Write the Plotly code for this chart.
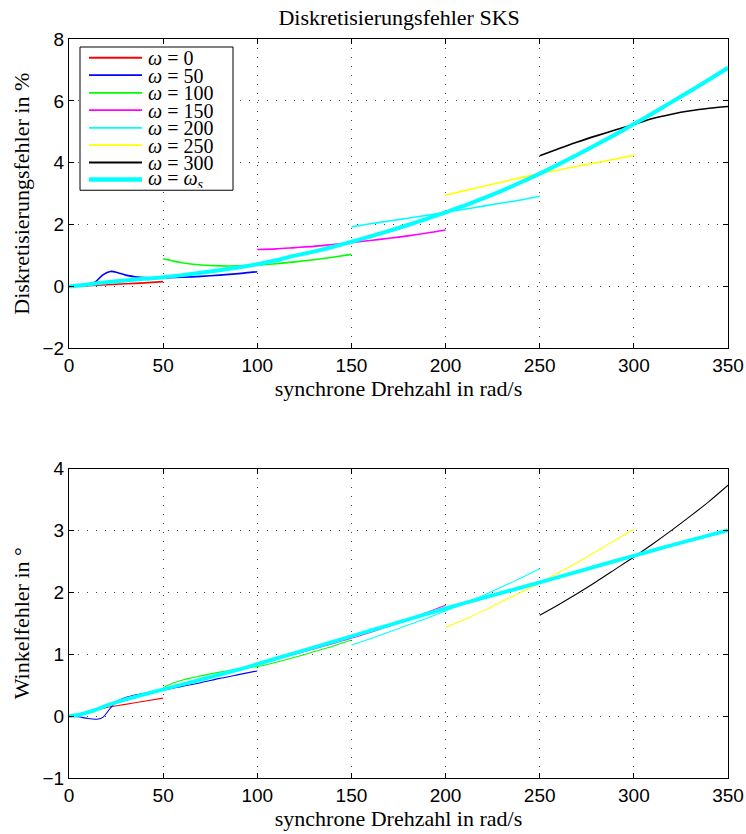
import plotly.graph_objects as go
from plotly.subplots import make_subplots

# ---------------- data: top plot (Diskretisierungsfehler in %) ----------------
x_w0 = [0, 10, 20, 30, 40, 50]
e_w0 = [0, 0.03, 0.06, 0.09, 0.12, 0.16]

x_w50 = [0, 5, 10, 14, 18, 22, 26, 30, 35, 40, 50, 60, 70, 80, 90, 100]
e_w50 = [0, 0.02, 0.06, 0.15, 0.38, 0.49, 0.45, 0.37, 0.32, 0.29, 0.28, 0.30, 0.33, 0.37, 0.42, 0.48]

x_w100 = [50, 55, 60, 70, 80, 90, 100, 110, 120, 130, 140, 150]
e_w100 = [0.90, 0.83, 0.77, 0.70, 0.67, 0.67, 0.70, 0.74, 0.80, 0.87, 0.95, 1.04]

x_w150 = [100, 110, 120, 130, 140, 150, 160, 170, 180, 190, 200]
e_w150 = [1.20, 1.22, 1.26, 1.30, 1.36, 1.42, 1.49, 1.56, 1.64, 1.73, 1.83]

x_w200 = [150, 160, 170, 180, 190, 200, 210, 220, 230, 240, 250]
e_w200 = [1.93, 2.03, 2.12, 2.21, 2.30, 2.40, 2.50, 2.60, 2.70, 2.80, 2.92]

x_w250 = [200, 210, 220, 230, 240, 250, 260, 270, 280, 290, 300]
e_w250 = [2.95, 3.10, 3.24, 3.38, 3.52, 3.65, 3.77, 3.89, 4.00, 4.12, 4.24]

x_w300 = [250, 260, 270, 280, 290, 300, 310, 320, 330, 340, 350]
e_w300 = [4.23, 4.45, 4.67, 4.87, 5.06, 5.24, 5.43, 5.57, 5.68, 5.76, 5.82]

x_ws = [0, 10, 20, 30, 40, 50, 60, 70, 80, 90, 100, 110, 120, 130, 140, 150, 160, 170, 180,
        190, 200, 210, 220, 230, 240, 250, 260, 270, 280, 290, 300, 310, 320, 330, 340, 350]
e_ws = [0, 0.07, 0.14, 0.20, 0.25, 0.30, 0.37, 0.45, 0.53, 0.62, 0.72, 0.85, 1.00, 1.13, 1.28,
        1.45, 1.62, 1.80, 1.99, 2.19, 2.40, 2.62, 2.85, 3.10, 3.37, 3.65, 3.95, 4.26, 4.58,
        4.91, 5.25, 5.60, 5.96, 6.32, 6.69, 7.07]

# ---------------- data: bottom plot (Winkelfehler in °) ----------------
a_x_w0 = [0, 10, 20, 30, 40, 50]
a_w0 = [0, 0.06, 0.14, 0.19, 0.24, 0.29]

a_x_w50 = [0, 5, 10, 15, 18, 22, 26, 30, 35, 40, 50, 60, 70, 80, 90, 100]
a_w50 = [0, -0.01, -0.04, -0.05, -0.02, 0.13, 0.25, 0.30, 0.34, 0.37, 0.42, 0.48, 0.54, 0.61, 0.67, 0.73]

a_x_w100 = [50, 55, 60, 70, 80, 90, 100, 110, 120, 130, 140, 150]
a_w100 = [0.46, 0.53, 0.58, 0.65, 0.71, 0.76, 0.80, 0.87, 0.95, 1.04, 1.13, 1.23]

a_x_w150 = [100, 120, 140, 160, 180, 200]
a_w150 = [0.84, 1.00, 1.17, 1.35, 1.56, 1.79]

a_x_w200 = [150, 160, 170, 180, 190, 200, 210, 220, 230, 240, 250]
a_w200 = [1.15, 1.25, 1.36, 1.47, 1.58, 1.70, 1.82, 1.95, 2.09, 2.23, 2.38]

a_x_w250 = [200, 210, 220, 230, 240, 250, 260, 270, 280, 290, 300]
a_w250 = [1.43, 1.56, 1.70, 1.85, 2.00, 2.15, 2.32, 2.48, 2.66, 2.84, 3.02]

a_x_w300 = [250, 260, 270, 280, 290, 300, 310, 320, 330, 340, 350]
a_w300 = [1.63, 1.80, 1.98, 2.17, 2.37, 2.57, 2.78, 3.00, 3.23, 3.47, 3.73]

a_x_ws = [0, 5, 10, 15, 20, 30, 40, 50, 60, 70, 80, 90, 100, 120, 140, 150, 160, 180, 200,
          220, 250, 280, 300, 320, 350]
a_ws = [0, 0.02, 0.06, 0.11, 0.17, 0.27, 0.35, 0.43, 0.51, 0.59, 0.67, 0.75, 0.84, 1.02, 1.20,
        1.29, 1.38, 1.56, 1.74, 1.91, 2.16, 2.42, 2.59, 2.76, 3.00]

names = ["<i>ω</i> = 0", "<i>ω</i> = 50", "<i>ω</i> = 100", "<i>ω</i> = 150",
         "<i>ω</i> = 200", "<i>ω</i> = 250", "<i>ω</i> = 300",
         "<i>ω</i> = <i>ω</i><sub><i>s</i></sub>"]
colors = ["#ff0000", "#0000ff", "#00ff00", "#ff00ff", "#00ffff", "#ffff00", "#000000", "#00ffff"]

top = [(x_w0, e_w0), (x_w50, e_w50), (x_w100, e_w100), (x_w150, e_w150),
       (x_w200, e_w200), (x_w250, e_w250), (x_w300, e_w300), (x_ws, e_ws)]
bot = [(a_x_w0, a_w0), (a_x_w50, a_w50), (a_x_w100, a_w100), (a_x_w150, a_w150),
       (a_x_w200, a_w200), (a_x_w250, a_w250), (a_x_w300, a_w300), (a_x_ws, a_ws)]

fig = make_subplots(rows=2, cols=1, vertical_spacing=0.1624,
                    row_heights=[0.5, 0.5])

for i, ((xx, yy), nm, c) in enumerate(zip(top, names, colors)):
    w = 4 if i == 7 else 1.6
    fig.add_trace(go.Scatter(x=xx, y=yy, mode="lines", name=nm,
                             line=dict(color=c, width=w, shape="spline", smoothing=0.8),
                             showlegend=False), row=1, col=1)
for i, ((xx, yy), nm, c) in enumerate(zip(bot, names, colors)):
    w = 3.8 if i == 7 else 1.1
    fig.add_trace(go.Scatter(x=xx, y=yy, mode="lines", name=nm,
                             line=dict(color=c, width=w, shape="spline", smoothing=0.8),
                             showlegend=False), row=2, col=1)

serif = "Liberation Serif, DejaVu Serif, serif"
sans = "Liberation Sans Narrow, Liberation Sans, Arial, sans-serif"

axcommon = dict(showline=True, linecolor="black", linewidth=1.3, mirror="ticks",
                ticks="inside", ticklen=5, tickcolor="black",
                showgrid=True, gridcolor="#444444", griddash="1px,8px", gridwidth=1,
                zeroline=False, ticklabeloverflow="allow", automargin=False,
                tickfont=dict(family=sans, size=19, color="black"))

fig.update_xaxes(range=[0, 350], dtick=50, **axcommon)
fig.update_yaxes(**axcommon)

tfont = dict(family=serif, size=22, color="black")
fig.update_xaxes(title=dict(text="synchrone Drehzahl in rad/s", font=tfont, standoff=4), row=1, col=1)
fig.update_xaxes(title=dict(text="synchrone Drehzahl in rad/s", font=tfont, standoff=4), row=2, col=1)
fig.update_yaxes(range=[-2, 8], dtick=2, title=dict(text="Diskretisierungsfehler in %",
                 font=tfont, standoff=6), row=1, col=1)
fig.update_yaxes(range=[-1, 4], dtick=1, title=dict(text="Winkelfehler in °",
                 font=tfont, standoff=6), row=2, col=1)

# ---- legend drawn in the top subplot's domain coordinates ----
def dx(px):
    return (px - 69) / 659.0

def dy(py):
    return (348 - py) / 309.0

fig.add_shape(type="rect", xref="x domain", yref="y domain",
              x0=dx(80), x1=dx(233), y0=dy(190), y1=dy(47),
              line=dict(color="black", width=1), fillcolor="white", layer="above")
legend_y = [57.7, 75, 92.7, 110, 127.7, 145, 162.3, 179.3]
for i, (nm, c, py) in enumerate(zip(names, colors, legend_y)):
    fig.add_shape(type="line", xref="x domain", yref="y domain",
                  x0=dx(89), x1=dx(142), y0=dy(py), y1=dy(py),
                  line=dict(color=c, width=4.5 if i == 7 else 1.8), layer="above")
    fig.add_annotation(xref="x domain", yref="y domain", x=dx(147), y=dy(py),
                       text=nm, showarrow=False, xanchor="left", yanchor="middle",
                       borderpad=0, height=17, valign="middle",
                       font=dict(family=serif, size=20, color="black"))

fig.update_layout(
    width=746, height=834,
    margin=dict(l=69, r=18, t=39, b=56, autoexpand=False),
    paper_bgcolor="white", plot_bgcolor="white",
    title=dict(text="Diskretisierungsfehler SKS", x=0.535, xanchor="center",
               y=1 - 17 / 834, yanchor="middle",
               font=dict(family=serif, size=22, color="black")),
    showlegend=False,
)

fig.write_html("out.html")
